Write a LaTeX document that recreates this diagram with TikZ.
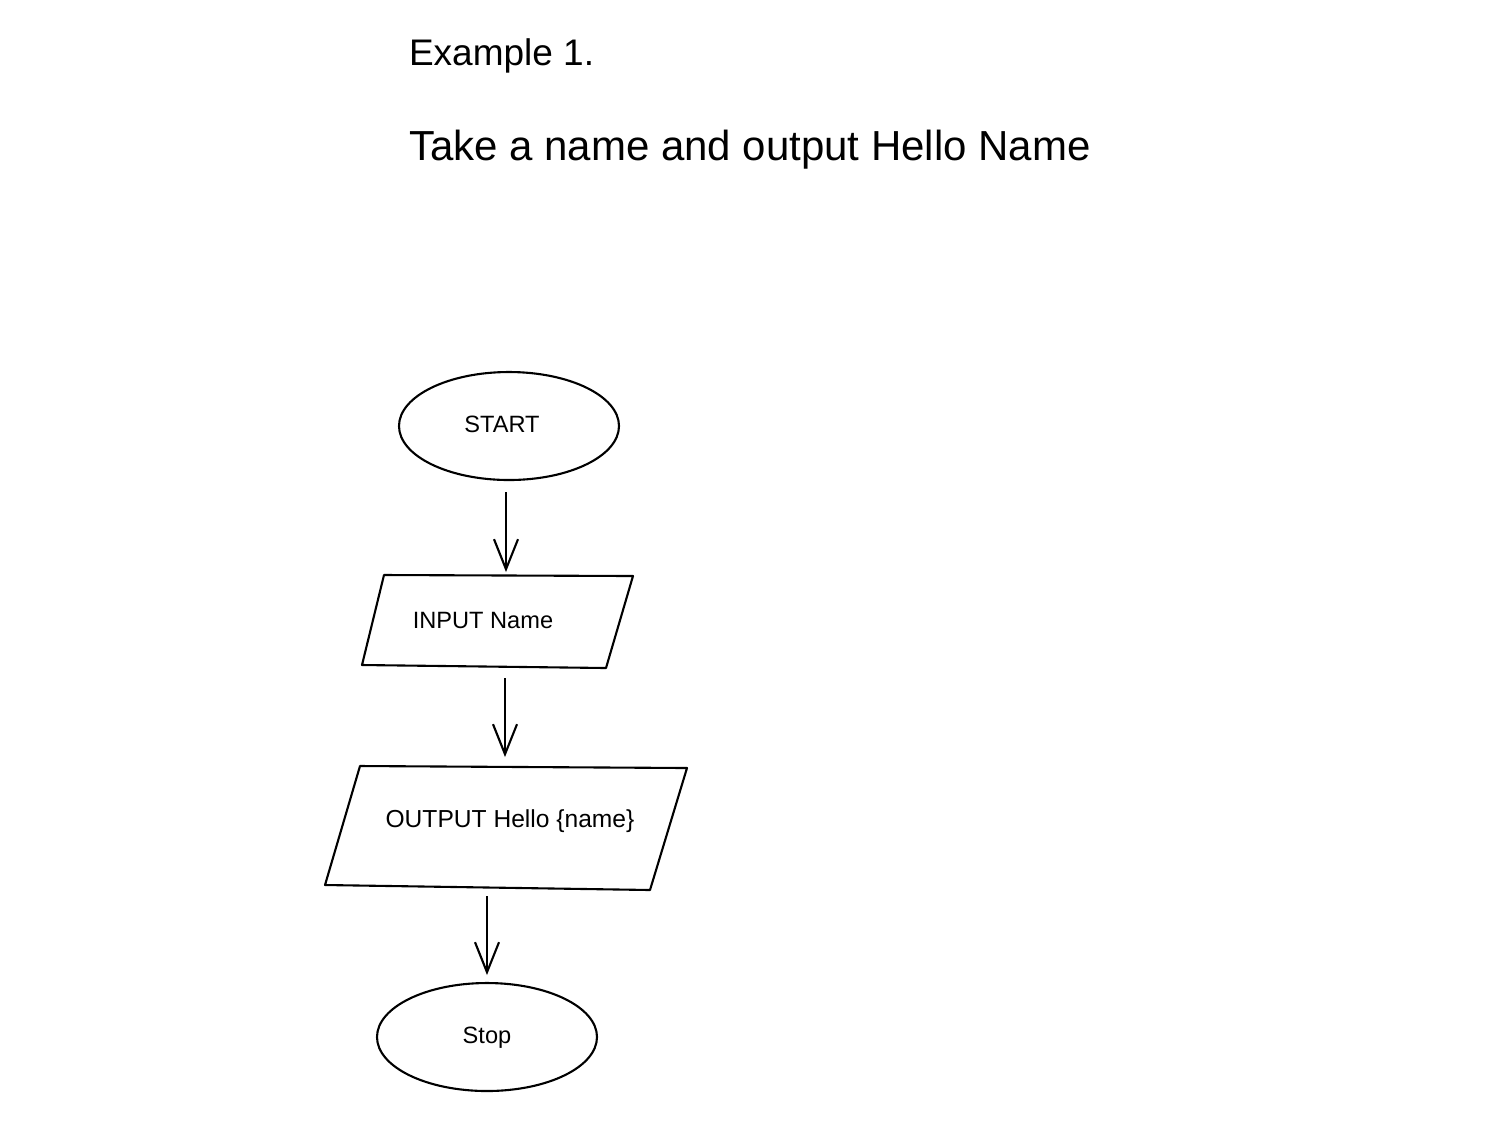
\documentclass[tikz,border=0pt]{standalone}
\usepackage{fontspec}
\setmainfont{Liberation Sans}
\usetikzlibrary{shapes.geometric,arrows.meta}
\begin{document}
\begin{tikzpicture}[x=0.5pt,y=-0.5pt,
  line width=1.05pt,
  term/.style={draw,ellipse,minimum width=110pt,minimum height=54pt,inner sep=0pt,font=\fontsize{11.5}{14}\selectfont},
  lbl/.style={inner sep=0pt,font=\fontsize{11.8}{14}\selectfont},
  ttl/.style={anchor=base west,inner sep=0pt,font=\fontsize{21}{25}\selectfont},
  flow/.style={-{Straight Barb[length=15pt,width=12pt]}},
  io/.style={line join=round}]
\useasboundingbox (0,0) rectangle (1488,1132);
\fill[white] (0,0) rectangle (1488,1132);

% titles
\node[ttl,font=\fontsize{18.5}{22}\selectfont] (t1) at (408,65) {Example 1.};
\node[ttl] (t2) at (408,160) {Take a name and output Hello Name};

% start
\node[term] (start) at (509,426) {};
\node[lbl] (startlbl) at (502,424) {START};

% input parallelogram
\coordinate (inTL) at (384,575);
\coordinate (inTR) at (633,576);
\coordinate (inBR) at (606,668);
\coordinate (inBL) at (362,665);
\draw[io] (inTL) -- (inTR) -- (inBR) -- (inBL) -- cycle;
\node[lbl] (input) at (483,620) {INPUT Name};

% output parallelogram
\coordinate (outTL) at (360,766);
\coordinate (outTR) at (687,768);
\coordinate (outBR) at (650,890);
\coordinate (outBL) at (325,885);
\draw[io] (outTL) -- (outTR) -- (outBR) -- (outBL) -- cycle;
\node[lbl,font=\fontsize{12.3}{14}\selectfont] (output) at (510,821) {OUTPUT Hello \{name\}};

% stop
\node[term] (stop) at (487,1037) {};
\node[lbl] (stoplbl) at (487,1038) {Stop};

% connectors
\coordinate (a1s) at (506,492);
\coordinate (a1e) at (506,572);
\coordinate (a2s) at (505,678);
\coordinate (a2e) at (505,757);
\coordinate (a3s) at (487,896);
\coordinate (a3e) at (487,975);
\draw[flow] (a1s) -- (a1e);
\draw[flow] (a2s) -- (a2e);
\draw[flow] (a3s) -- (a3e);
\end{tikzpicture}
\end{document}
